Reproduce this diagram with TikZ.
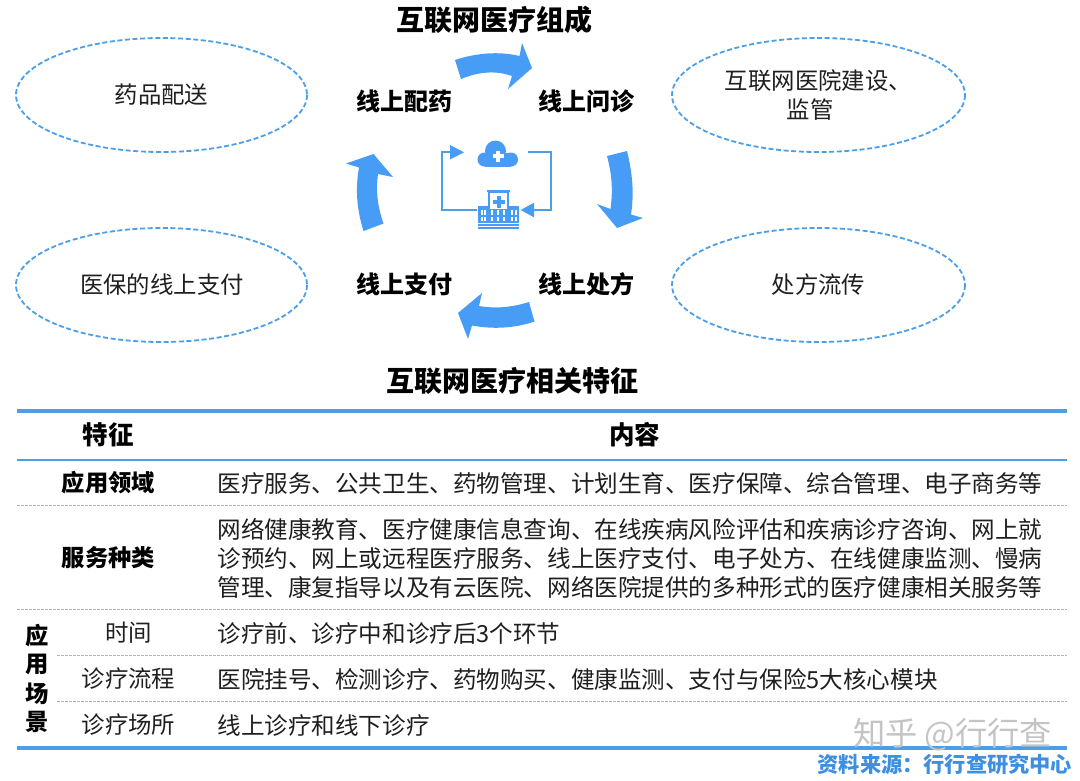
\documentclass[tikz,border=0pt]{standalone}
\usepackage{fontspec}
\setmainfont{Noto Sans CJK SC}
\definecolor{blueA}{HTML}{479DF6}
\definecolor{blueR}{HTML}{4A9FE8}
\definecolor{blueT}{HTML}{3F8FE0}
\definecolor{wmark}{HTML}{C4C4C4}
\definecolor{grayD}{HTML}{B4B4B4}
\newcommand{\fs}[1]{\fontsize{#1pt}{#1pt}\selectfont}
\tikzset{
  x=1pt,y=-1pt,
  every node/.style={inner sep=0pt,outer sep=0pt,text=black!88},
  bubble/.style={draw=blueR,line width=1.8pt,dash pattern=on 5pt off 2.6pt,fill=none},
  bubbletext/.style={font=\fs{23.4},align=center},
  stagetext/.style={font=\fs{24}\bfseries,text=black},
  titletext/.style={font=\fs{28}\bfseries,text=black},
  headtext/.style={font=\fs{23.3}\bfseries,text=black},
  colhead/.style={font=\fs{25.5}\bfseries,text=black},
  celltext/.style={font=\fs{23.57},anchor=west},
  keytext/.style={font=\fs{23.4}},
  cyclearrow/.style={fill=blueA,draw=none},
  heavyrule/.style={draw=blueR,line width=3.3pt},
  midrule/.style={draw=blueR,line width=2.6pt},
  lightrule/.style={draw=grayD,line width=0.9pt,dash pattern=on 2.6pt off 1.4pt},
  iconline/.style={draw=blueR,line width=1.7pt},
  iconfill/.style={fill=blueA,draw=none},
  iconwhite/.style={fill=white,draw=none},
}
\begin{document}
\begin{tikzpicture}
\useasboundingbox[fill=white] (0,0) rectangle (1080,780);

% titles
\node[titletext] (t1) at (494.5,20) {互联网医疗组成};
\node[titletext] (t2) at (512,381) {互联网医疗相关特征};

% ellipses
\draw[bubble] (161.5,95) ellipse [x radius=145.5,y radius=57];
\draw[bubble] (818.5,95) ellipse [x radius=146.5,y radius=57];
\draw[bubble] (161.5,285) ellipse [x radius=145.5,y radius=57];
\draw[bubble] (818.5,285) ellipse [x radius=146.5,y radius=57];
\node[bubbletext] (b1) at (161.5,95) {药品配送};
\node[bubbletext] (b2a) at (818.5,81) {互联网医院建设、};
\node[bubbletext] (b2b) at (810,110) {监管};
\node[bubbletext] (b3) at (162,285) {医保的线上支付};
\node[bubbletext] (b4) at (818.5,285) {处方流传};

% cycle labels
\node[stagetext] (s1) at (404.5,101) {线上配药};
\node[stagetext] (s2) at (586,101) {线上问诊};
\node[stagetext] (s3) at (586,284) {线上处方};
\node[stagetext] (s4) at (404.5,284) {线上支付};

% cycle arrows
\fill[cyclearrow] (455,60) .. controls (476,53) and (499,51) .. (519.5,56)
  -- (522,43) -- (532,68) -- (508,89) -- (512,76)
  .. controls (495,70) and (478,72) .. (461,79) -- cycle;
\fill[cyclearrow] (607,156) -- (627,151)
  .. controls (633,175) and (634,195) .. (631,214.5)
  -- (643,218) -- (617,228) -- (597,204) -- (610.5,209)
  .. controls (613,190) and (612,175) .. (607,156) -- cycle;
\fill[cyclearrow] (529,302) -- (534.5,321.5)
  .. controls (513,329) and (490,329) .. (472,325.5)
  -- (468,339) -- (458,313) -- (482,293) -- (479,306)
  .. controls (497,309) and (513,307) .. (529,302) -- cycle;
\fill[cyclearrow] (363.5,231) -- (383.5,223.5)
  .. controls (377,205) and (376,190) .. (378,174)
  -- (393,177) -- (373.5,154) -- (346,163.5) -- (359,167.5)
  .. controls (355,190) and (357,210) .. (363.5,231) -- cycle;

% centre icon: connectors
\coordinate (hosL) at (477,210);
\coordinate (cornerLB) at (442,210);
\coordinate (cornerLT) at (442,152.3);
\coordinate (headL) at (450,152.3);
\coordinate (cloudR) at (528,152.3);
\coordinate (cornerRT) at (550.7,152.3);
\coordinate (cornerRB) at (550.7,210);
\coordinate (headR) at (534,210);
\draw[iconline] (hosL) -- (cornerLB) -- (cornerLT) -- (headL);
\draw[iconline] (cloudR) -- (cornerRT) -- (cornerRB) -- (headR);
\fill[iconfill] (450,145) -- (464,152.3) -- (450,159.5) -- cycle;
\fill[iconfill] (534,202.7) -- (520.7,210) -- (534,217.3) -- cycle;

% centre icon: cloud
\fill[iconfill] (495.5,151) circle (10.5);
\fill[iconfill] (484.5,159.5) circle (7);
\fill[iconfill] (511,159.5) circle (7);
\fill[iconfill] (484.5,153) rectangle (511,166.5);
\fill[iconwhite] (496.3,150.5) rectangle (500,161.5);
\fill[iconwhite] (492.6,154.2) rectangle (503.7,158);

% centre icon: hospital
\fill[iconfill] (488,190.5) rectangle (509,223);
\fill[iconwhite] (490,193) rectangle (507,223);
\fill[iconfill] (486.5,189.7) rectangle (510,191.6);
\fill[iconfill] (496.5,196) rectangle (500.5,208);
\fill[iconfill] (492.5,200) rectangle (504.5,204);
\fill[iconfill] (478,206) rectangle (488,223);
\fill[iconfill] (509,206) rectangle (519,223);
\fill[iconfill] (488,208.5) rectangle (509,223);
\foreach \wx in {480.5,484.3,490.8,496.7,502.5,511.2,515}{
  \fill[iconwhite] (\wx,209.5) rectangle +(2,5.5);
  \fill[iconwhite] (\wx,216.5) rectangle +(2,4.5);
}
\fill[iconfill] (477.5,224.2) rectangle (519,226);
\fill[iconfill] (477.5,227.3) rectangle (519,229.2);

% table rules
\coordinate (ruleAl) at (17,411);    \coordinate (ruleAr) at (1067,411);
\coordinate (ruleBl) at (17,460);    \coordinate (ruleBr) at (1067,460);
\coordinate (ruleCl) at (17,505.8);  \coordinate (ruleCr) at (1067,505.8);
\coordinate (ruleDl) at (17,609.3);  \coordinate (ruleDr) at (1067,609.3);
\coordinate (ruleEl) at (57,655.7);  \coordinate (ruleEr) at (1067,655.7);
\coordinate (ruleFl) at (57,701.7);  \coordinate (ruleFr) at (1067,701.7);
\coordinate (ruleGl) at (17,748);    \coordinate (ruleGr) at (1067,748);
\draw[heavyrule] (ruleAl) -- (ruleAr);
\draw[midrule] (ruleBl) -- (ruleBr);
\draw[lightrule] (ruleCl) -- (ruleCr);
\draw[lightrule] (ruleDl) -- (ruleDr);
\draw[lightrule] (ruleEl) -- (ruleEr);
\draw[lightrule] (ruleFl) -- (ruleFr);

% table text
\node[colhead] (h1) at (108,435) {特征};
\node[colhead] (h2) at (634.5,435) {内容};
\node[headtext] (k1) at (108.5,483) {应用领域};
\node[headtext] (k2) at (108.5,558) {服务种类};
\node[headtext] (v1) at (37,636) {应};
\node[headtext] (v2) at (37,664) {用};
\node[headtext] (v3) at (37,694) {场};
\node[headtext] (v4) at (37,722) {景};
\node[keytext] (k3) at (128.5,633) {时间};
\node[keytext] (k4) at (128.5,679) {诊疗流程};
\node[keytext] (k5) at (128.5,725) {诊疗场所};
\node[celltext] (c1) at (217.5,483) {医疗服务、公共卫生、药物管理、计划生育、医疗保障、综合管理、电子商务等};
\node[celltext] (c2a) at (217.5,529) {网络健康教育、医疗健康信息查询、在线疾病风险评估和疾病诊疗咨询、网上就};
\node[celltext] (c2b) at (217.5,558) {诊预约、网上或远程医疗服务、线上医疗支付、电子处方、在线健康监测、慢病};
\node[celltext] (c2c) at (217.5,587) {管理、康复指导以及有云医院、网络医院提供的多种形式的医疗健康相关服务等};
\node[celltext] (c3) at (217.5,633) {诊疗前、诊疗中和诊疗后3个环节};
\node[celltext] (c4) at (217.5,679) {医院挂号、检测诊疗、药物购买、健康监测、支付与保险5大核心模块};
\node[celltext] (c5) at (217.5,725) {线上诊疗和线下诊疗};

% watermark over the bottom rule
\draw[heavyrule] (ruleGl) -- (ruleGr);
\node[font=\fs{32.3},text=wmark,anchor=west] (wm) at (853,735) {知乎 @行行查};

% source
\node[font=\fs{21.2}\bfseries,text=blueT,anchor=east] (src) at (1072,764) {资料来源：行行查研究中心};
\end{tikzpicture}
\end{document}
